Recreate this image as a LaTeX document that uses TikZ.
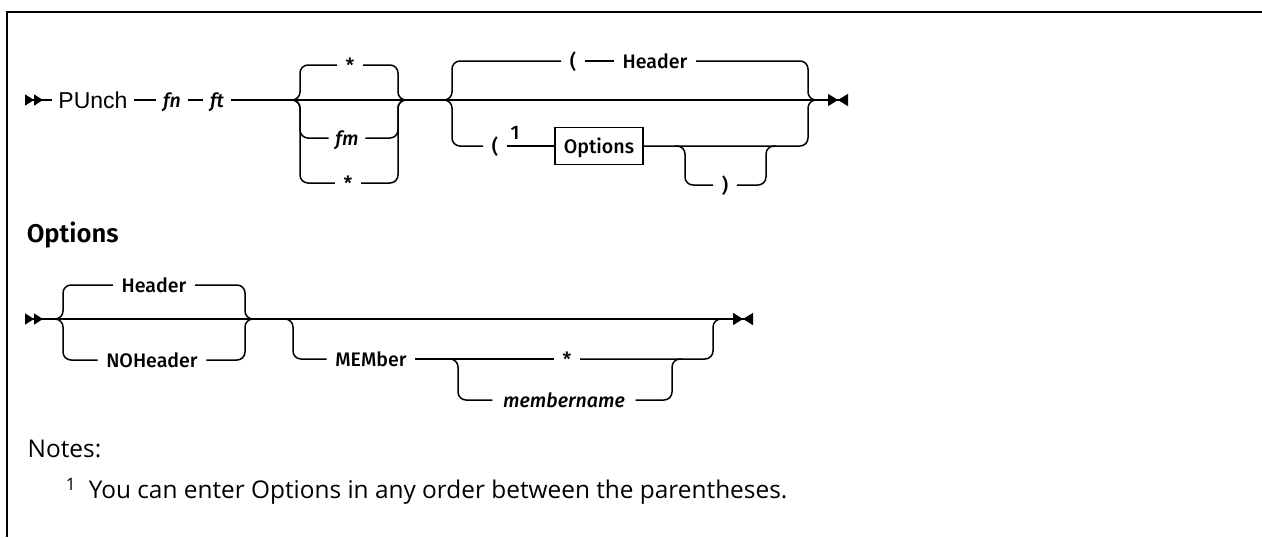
\documentclass[tikz,border=0pt]{standalone}
\usepackage{fontspec}
\setmainfont{Liberation Sans}
\newfontfamily\kwfont{Fira Sans Medium}
\newfontfamily\headfont{Fira Sans SemiBold}
\newfontfamily\notefont{Open Sans}
\usetikzlibrary{arrows.meta}

\tikzset{
  rail/.style={rounded corners=4pt},
  railstart/.style={{Triangle[reversed,length=4.5pt,width=5.5pt]Triangle[reversed,length=4.5pt,width=5.5pt]}-},
  railend/.style={-{Triangle[length=5pt,width=6pt]Triangle[reversed,length=5pt,width=6pt]}},
  kw/.style={font=\kwfont\fontsize{9.8}{12}\selectfont},
  var/.style={font=\kwfont\itshape\fontsize{9.8}{12}\selectfont, inner xsep=3pt},
  boxed/.style={draw, line width=0.65pt, minimum height=18.5pt, inner xsep=4.5pt},
  note/.style={font=\notefont\fontsize{12.2}{14}\selectfont, anchor=west, inner xsep=0pt, text height=8.7pt}
}

\begin{document}
\begin{tikzpicture}[x=0.5pt, y=-0.5pt, line width=0.75pt,
  every node/.style={font=\fontsize{10}{12}\selectfont, inner xsep=4pt, inner ysep=0pt, text height=7.2pt, text depth=0pt}]
  \useasboundingbox (0,0) rectangle (1262,537);
  % frame
  \draw[line width=1.3pt] (7,537) -- (7,12) -- (1262,12);

  % PUnch statement
  \coordinate (st1) at (25,100);
  \node[font=\fontsize{11.5}{13}\selectfont, inner xsep=3pt, text height=8.2pt] (punch) at (93,100) {PUnch};
  \node[var] (fn) at (172,100) {fn};
  \node[var] (ft) at (217,100) {ft};
  \coordinate (end1) at (848,100);
  \draw[railstart] (st1) -- (punch);
  \draw (punch) -- (fn);
  \draw (fn) -- (ft);
  \draw[railend] (ft) -- (end1);

  % file mode choice
  \coordinate (g1in) at (290,100); \coordinate (g1out) at (408,100);
  \node[kw] (ast1) at (350,65) {*};
  \node[var] (fm) at (347,138) {fm};
  \node[kw] (ast2) at (348,183) {*};
  \foreach \n in {ast1,fm,ast2} {
    \draw[rail] (g1in) -- ++(10,0) |- (\n);
    \draw[rail] (g1out) -- ++(-10,0) |- (\n);
  }

  % option list
  \coordinate (g2in) at (442,100); \coordinate (g2out) at (818,100);
  \node[kw] (lp1) at (573,61) {(};
  \node[kw] (hdr1) at (655,61) {Header};
  \node[kw] (lp2) at (495,146) {(};
  \node[kw] (fnote) at (515,132) {1};
  \node[kw, boxed] (opt) at (599,146) {Options};
  \draw[rail] (g2in) -- ++(10,0) |- (lp1);
  \draw (lp1) -- (hdr1);
  \draw[rail] (g2out) -- ++(-10,0) |- (hdr1);
  \draw[rail] (g2in) -- ++(10,0) |- (lp2);
  \draw (lp2) -- (opt);
  \draw[rail] (g2out) -- ++(-10,0) |- (opt);
  % closing paren
  \coordinate (g3in) at (675,146); \coordinate (g3out) at (776,146);
  \node[kw] (rp) at (725,185) {)};
  \draw[rail] (g3in) -- ++(10,0) |- (rp);
  \draw[rail] (g3out) -- ++(-10,0) |- (rp);

  % Options fragment
  \node[font=\headfont\fontsize{12.8}{14}\selectfont, anchor=west, inner xsep=0pt] (ophead) at (26,235) {Options};
  \coordinate (st2) at (25,319);
  \coordinate (g4in) at (53,319); \coordinate (g4out) at (255,319);
  \coordinate (end2) at (753,319);
  \draw[railstart] (st2) -- (g4in);
  \draw[railend] (g4in) -- (end2);
  \node[kw] (hdr2) at (154,285) {Header};
  \node[kw] (nohdr) at (152,360) {NOHeader};
  \foreach \n in {hdr2,nohdr} {
    \draw[rail] (g4in) -- ++(10,0) |- (\n);
    \draw[rail] (g4out) -- ++(-10,0) |- (\n);
  }
  % member
  \coordinate (g5in) at (283,319); \coordinate (g5out) at (723,319);
  \node[kw] (mem) at (371,359) {MEMber};
  \node[kw] (ast3) at (567,359) {*};
  \draw[rail] (g5in) -- ++(10,0) |- (mem);
  \draw (mem) -- (ast3);
  \draw[rail] (g5out) -- ++(-10,0) |- (ast3);
  \coordinate (g6in) at (448,359); \coordinate (g6out) at (682,359);
  \node[var, inner xsep=5pt] (mname) at (564,400) {membername};
  \draw[rail] (g6in) -- ++(10,0) |- (mname);
  \draw[rail] (g6out) -- ++(-10,0) |- (mname);

  % notes
  \node[note] (notes) at (27,449) {Notes:};
  \node[note] (note1) at (65,490) {\textsuperscript{1}\hspace{3pt} You can enter Options in any order between the parentheses.};
\end{tikzpicture}
\end{document}
